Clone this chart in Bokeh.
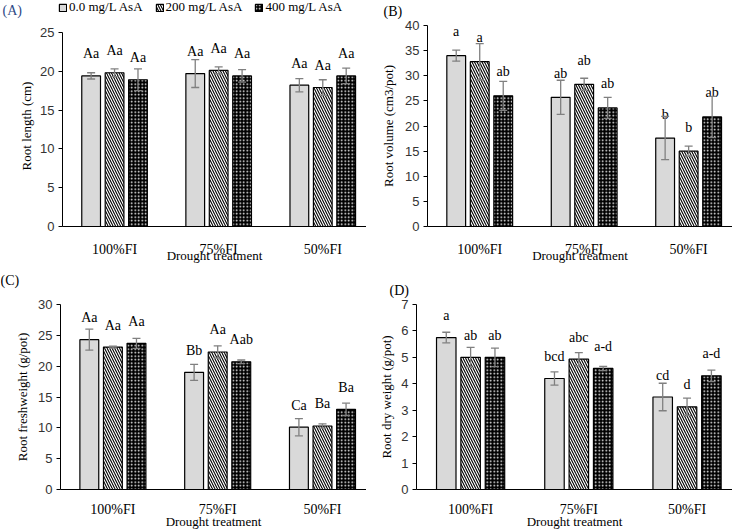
import numpy as np
from bokeh.plotting import figure
from bokeh.models import (Range1d, FixedTicker, ColumnDataSource, Whisker, TeeHead,
                          Label, Legend, LegendItem)
from bokeh.layouts import column, row
from bokeh.core.properties import value
from bokeh.embed import file_html
from bokeh.resources import INLINE

groups = ["100%FI", "75%FI", "50%FI"]
series = ["0.0 mg/L AsA", "200 mg/L AsA", "400 mg/L AsA"]

# (A) Root length (cm): rows = series, columns = groups
length_mean = [[19.4, 19.7, 18.2], [19.8, 20.1, 17.9], [18.9, 19.4, 19.4]]
length_err = [[0.4, 1.8, 0.85], [0.5, 0.45, 1.0], [1.4, 0.8, 1.0]]
length_sig = [["Aa", "Aa", "Aa"], ["Aa", "Aa", "Aa"], ["Aa", "Aa", "Aa"]]

# (B) Root volume (cm3/pot)
volume_mean = [[34.0, 25.7, 17.6], [32.8, 28.3, 15.0], [26.0, 23.6, 21.8]]
volume_err = [[1.1, 3.4, 4.3], [3.6, 1.2, 1.0], [2.9, 2.1, 4.1]]
volume_sig = [["a", "ab", "b"], ["a", "ab", "b"], ["ab", "ab", "ab"]]

# (C) Root fresh weight (g/pot)
fresh_mean = [[24.3, 19.0, 10.1], [23.1, 22.3, 10.3], [23.7, 20.7, 13.0]]
fresh_err = [[1.7, 1.3, 1.4], [0.15, 1.0, 0.35], [0.8, 0.3, 1.0]]
fresh_sig = [["Aa", "Bb", "Ca"], ["Aa", "Aa", "Ba"], ["Aa", "Aab", "Ba"]]

# (D) Root dry weight (g/pot)
dry_mean = [[5.75, 4.2, 3.5], [5.0, 4.93, 3.13], [5.0, 4.58, 4.3]]
dry_err = [[0.2, 0.25, 0.52], [0.38, 0.25, 0.33], [0.35, 0.08, 0.22]]
dry_sig = [["a", "bcd", "cd"], ["ab", "abc", "d"], ["ab", "a-d", "a-d"]]

SERIF = "Liberation Serif"
SANS = "Liberation Sans"
ERR_COLOR = "#808080"
PANEL_W = 366
FULL_W = 732

styles = [
    dict(fill_color="#d9d9d9"),
    dict(fill_color="white", hatch_pattern="left_diagonal_line", hatch_color="black",
         hatch_scale=5, hatch_weight=1.1),
    dict(fill_color="black", hatch_pattern="dot", hatch_color="white",
         hatch_scale=3.5, hatch_weight=0.8),
]
offsets = [-0.225, 0.0, 0.225]


def header(height, letters, with_legend=False):
    """A strip above a row of panels holding the panel letters (and the legend)."""
    h = figure(width=FULL_W, height=height, x_range=Range1d(0, 1), y_range=Range1d(0, 1),
               x_axis_type=None, y_axis_type=None, output_backend="svg",
               toolbar_location=None, min_border=0, outline_line_color=None,
               background_fill_color="white", border_fill_color="white")
    h.grid.visible = False
    for text, color, lx, ly_from_top in letters:
        h.add_layout(Label(x=lx, y=height - ly_from_top, x_units="screen",
                           y_units="screen", text=text, text_font=SERIF,
                           text_font_size="14px", text_color=color,
                           text_baseline="middle", text_align="left"))
    if with_legend:
        items = []
        for j, s in enumerate(series):
            # legend key only: a bar with no drawable position
            r = h.vbar(x=[np.nan], top=[np.nan], width=0.1, line_color="black",
                       line_width=1.2, **styles[j])
            items.append(LegendItem(label=s, renderers=[r]))
        lg = Legend(items=items, orientation="horizontal", location=(58, 4),
                    glyph_width=9, glyph_height=9, label_text_font=SERIF,
                    label_text_font_size="13px", label_text_color="black",
                    label_height=12, label_text_baseline="middle", spacing=12,
                    padding=0, margin=0, label_standoff=2, border_line_color=None,
                    background_fill_alpha=0)
        h.add_layout(lg, "center")
    return h


def make_panel(ylabel, ymax, step, range_top, means, errs, sigs, height, left, top,
               bottom, ylabel_standoff, xtick_standoff, xlabel_standoff, label_offset):
    p = figure(width=PANEL_W, height=height, x_range=Range1d(-0.5, 2.42),
               y_range=Range1d(0, range_top), output_backend="svg",
               toolbar_location=None, min_border_left=left, min_border_right=0,
               min_border_top=top, min_border_bottom=bottom, outline_line_color=None,
               background_fill_color="white", border_fill_color="white")
    p.grid.visible = False

    xa = p.xaxis[0]
    xa.ticker = FixedTicker(ticks=list(range(len(groups))))
    xa.major_label_overrides = {i: g for i, g in enumerate(groups)}
    xa.major_tick_line_color = None
    xa.major_tick_out = 0
    xa.major_tick_in = 0
    xa.minor_tick_line_color = None
    xa.minor_tick_out = 0
    xa.axis_line_color = "black"
    xa.axis_line_width = 1
    xa.major_label_text_font = SERIF
    xa.major_label_text_font_size = "14px"
    xa.major_label_text_color = "black"
    xa.major_label_standoff = xtick_standoff
    xa.axis_label = "Drought treatment"
    xa.axis_label_text_font = SERIF
    xa.axis_label_text_font_size = "13px"
    xa.axis_label_text_font_style = "normal"
    xa.axis_label_text_color = "black"
    xa.axis_label_standoff = xlabel_standoff

    ya = p.yaxis[0]
    ya.ticker = FixedTicker(ticks=list(range(0, ymax + 1, step)))
    ya.bounds = (0, ymax)
    ya.major_tick_out = 4
    ya.major_tick_in = 0
    ya.minor_tick_line_color = None
    ya.minor_tick_out = 0
    ya.axis_line_color = "black"
    ya.major_tick_line_color = "black"
    ya.major_label_text_font = SANS
    ya.major_label_text_font_size = "13px"
    ya.major_label_text_color = "#333333"
    ya.major_label_standoff = 4
    ya.axis_label = ylabel
    ya.axis_label_text_font = SERIF
    ya.axis_label_text_font_size = "13px"
    ya.axis_label_text_font_style = "normal"
    ya.axis_label_text_color = "black"
    ya.axis_label_standoff = ylabel_standoff

    for j in range(len(series)):
        m = np.array(means[j], dtype=float)
        e = np.array(errs[j], dtype=float)
        src = ColumnDataSource(dict(
            x=np.arange(len(groups)) + offsets[j], top=m, upper=m + e, lower=m - e,
            label=sigs[j]))
        p.vbar(x="x", top="top", width=0.18, source=src, line_color="black",
               line_width=1.2, **styles[j])
        w = Whisker(source=src, base="x", upper="upper", lower="lower",
                    line_color=ERR_COLOR, line_width=1.3, level="annotation",
                    upper_head=TeeHead(size=8, line_color=ERR_COLOR, line_width=1.3),
                    lower_head=TeeHead(size=8, line_color=ERR_COLOR, line_width=1.3))
        p.add_layout(w)
        p.text(x="x", y="top", text="label", source=src, y_offset=label_offset,
               text_align="center", text_baseline="middle",
               text_font=value(SERIF), text_font_size="14px", text_color="black")
    return p


# layout (pixels): row 1 header 19 + plots 246, row 2 header 33 + plots 233
H1, H2 = 19, 33
P1, P2 = 265 - H1, 531 - 265 - H2

h1 = header(H1, [("(A)", "#2e4a86", 2, 10), ("(B)", "black", 383, 11)], with_legend=True)
h2 = header(H2, [("(C)", "black", 0, 15), ("(D)", "black", 389, 25)])

# panel A: frame spans 25..229 px, value 25 sits at 32 px
pA = make_panel("Root length (cm)", 25, 5, 25 * 204 / 197, length_mean, length_err,
                length_sig, P1, 62, 6, 36, 3, 15, -12, -22)
pB = make_panel("Root volume (cm3/pot)", 40, 5, 40, volume_mean, volume_err,
                volume_sig, P1, 61, 6, 36, 6, 15, -12, -24)
pC = make_panel("Root freshweight (g/pot)", 30, 5, 30, fresh_mean, fresh_err,
                fresh_sig, P2, 60, 6, 41, 5, 12, -6, -22)
pD = make_panel("Root dry weight (g/pot)", 7, 1, 7, dry_mean, dry_err,
                dry_sig, P2, 50, 6, 41, 4, 12, -6, -22)

layout = column(h1, row(pA, pB), h2, row(pC, pD))
open("out.html", "w").write(file_html(layout, INLINE))
